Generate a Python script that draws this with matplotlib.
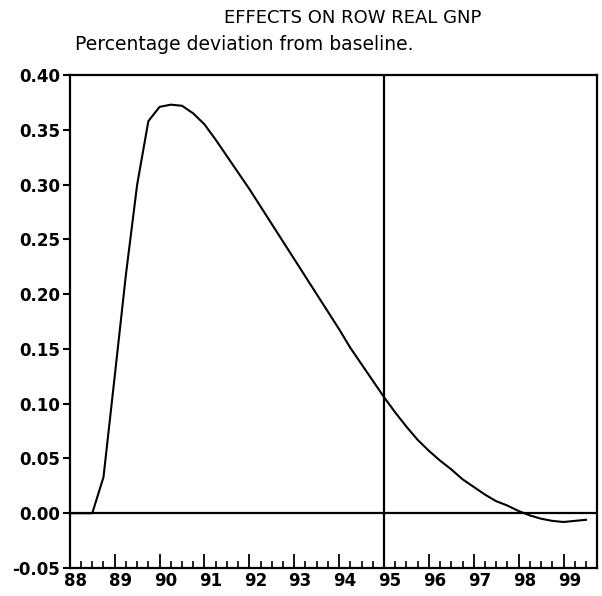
import matplotlib.pyplot as plt
import matplotlib.transforms as mtransforms

# quarterly observations, 88Q1 .. 99Q3
quarters = [88.00, 88.25, 88.50, 88.75,
            89.00, 89.25, 89.50, 89.75,
            90.00, 90.25, 90.50, 90.75,
            91.00, 91.25, 91.50, 91.75,
            92.00, 92.25, 92.50, 92.75,
            93.00, 93.25, 93.50, 93.75,
            94.00, 94.25, 94.50, 94.75,
            95.00, 95.25, 95.50, 95.75,
            96.00, 96.25, 96.50, 96.75,
            97.00, 97.25, 97.50, 97.75,
            98.00, 98.25, 98.50, 98.75,
            99.00, 99.25, 99.50]
gnp_dev = [0.000, 0.000, 0.000, 0.033,
           0.125, 0.218, 0.300, 0.358,
           0.371, 0.373, 0.372, 0.365,
           0.355, 0.341, 0.326, 0.311,
           0.296, 0.280, 0.264, 0.248,
           0.232, 0.216, 0.200, 0.184,
           0.168, 0.151, 0.136, 0.121,
           0.106, 0.092, 0.079, 0.067,
           0.057, 0.048, 0.040, 0.031,
           0.024, 0.017, 0.011, 0.007,
           0.002, -0.002, -0.005, -0.007,
           -0.008, -0.007, -0.006]

years = [88, 89, 90, 91, 92, 93, 94, 95, 96, 97, 98, 99]
year_labels = ["88", "89", "90", "91", "92", "93", "94", "95", "96", "97", "98", "99"]
y_ticks = [-0.05, 0.00, 0.05, 0.10, 0.15, 0.20, 0.25, 0.30, 0.35, 0.40]
marker_year = 95

fig = plt.figure(figsize=(6.02, 5.96), dpi=100)
ax = fig.add_axes([0.116, 0.047, 0.876, 0.827])

ax.plot(quarters, gnp_dev, color='black', lw=1.5)
ax.axhline(0, color='black', lw=1.6)
ax.axvline(marker_year, color='black', lw=1.6)

ax.set_xlim(88, 99.75)
ax.set_ylim(-0.05, 0.40)

for s in ax.spines.values():
    s.set_linewidth(1.6)

ax.set_yticks(y_ticks)
ax.set_yticklabels(["%.2f" % v for v in y_ticks], fontsize=12, fontweight='bold')
ax.tick_params(axis='y', direction='out', length=5, width=1.5, pad=2)

ax.set_xticks(years)
ax.set_xticklabels(year_labels, fontsize=12, fontweight='bold')
ax.set_xticks([q / 4 for q in range(88 * 4, 100 * 4)], minor=True)
ax.tick_params(axis='x', which='major', direction='in', length=10, width=1.3, pad=3)
ax.tick_params(axis='x', which='minor', direction='in', length=5, width=1.2)

shift = mtransforms.ScaledTranslation(6 / 100, 0, fig.dpi_scale_trans)
for lab in ax.get_xticklabels():
    lab.set_transform(lab.get_transform() + shift)

fig.text(0.586, 0.970, "EFFECTS ON ROW REAL GNP", ha='center', va='center', fontsize=13)
fig.text(0.124, 0.925, "Percentage deviation from baseline.", ha='left', va='center', fontsize=13.5)

plt.savefig("out.png", dpi=100)
